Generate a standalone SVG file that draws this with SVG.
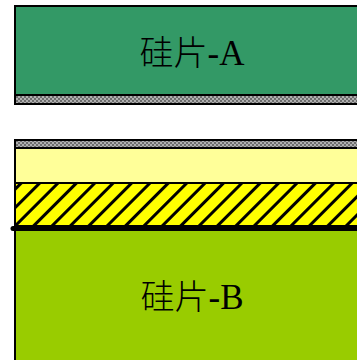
<svg xmlns="http://www.w3.org/2000/svg" width="357" height="360" viewBox="0 0 357 360">
  <style>
    .lbl { font-family: "Liberation Serif", "Noto Sans CJK SC", serif; font-size: 35px; fill: #000; text-anchor: middle; }
    .cjk { font-weight: 300; font-size: 34px; }
    .edge { stroke: #000; stroke-width: 2; }
  </style>
  <defs>
    <pattern id="grain" width="4" height="4" patternUnits="userSpaceOnUse">
      <rect width="4" height="4" fill="#b0b0b0"/>
      <rect x="0" y="0" width="2" height="2" fill="#6e6e6e"/>
      <rect x="2" y="2" width="2" height="2" fill="#6e6e6e"/>
    </pattern>
    <pattern id="hatch" width="13" height="13" patternUnits="userSpaceOnUse" patternTransform="rotate(45)">
      <rect width="13" height="13" fill="#ffff00"/>
      <rect x="0" y="0" width="3" height="13" fill="#000"/>
    </pattern>
  </defs>

  <g id="wafer-a">
    <rect x="15" y="6" width="350" height="89" fill="#339966" class="edge"/>
    <rect x="15" y="95" width="350" height="9" fill="url(#grain)" class="edge"/>
    <text class="lbl" x="192" y="65"><tspan class="cjk">硅片</tspan>-A</text>
  </g>

  <g id="wafer-b">
    <rect x="15" y="140" width="350" height="8" fill="url(#grain)" class="edge"/>
    <rect x="15" y="148" width="350" height="35" fill="#ffff99" class="edge"/>
    <rect x="15" y="183" width="350" height="43" fill="url(#hatch)" class="edge"/>
    <rect x="15" y="230" width="350" height="140" fill="#99cc00" class="edge"/>
    <line x1="13" y1="228.5" x2="365" y2="228.5" stroke="#000" stroke-width="5" stroke-linecap="round"/>
    <text class="lbl" x="192" y="309"><tspan class="cjk">硅片</tspan>-B</text>
  </g>

  <g id="connectors"></g>
</svg>
